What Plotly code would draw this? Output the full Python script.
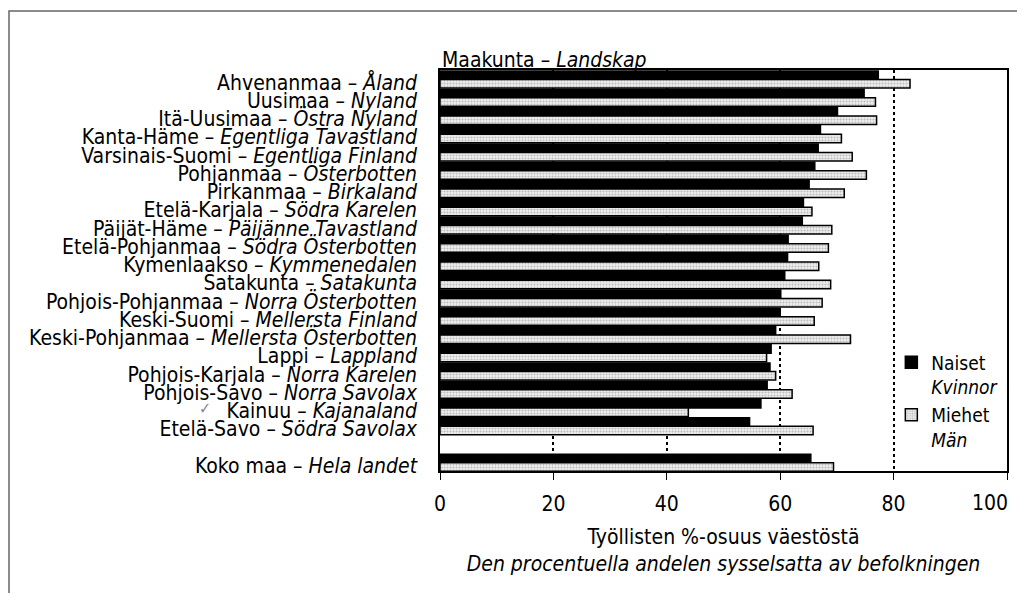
import plotly.graph_objects as go

regions_fi = ["Ahvenanmaa", "Uusimaa", "Itä-Uusimaa", "Kanta-Häme", "Varsinais-Suomi",
              "Pohjanmaa", "Pirkanmaa", "Etelä-Karjala", "Päijät-Häme", "Etelä-Pohjanmaa",
              "Kymenlaakso", "Satakunta", "Pohjois-Pohjanmaa", "Keski-Suomi", "Keski-Pohjanmaa",
              "Lappi", "Pohjois-Karjala", "Pohjois-Savo", "Kainuu", "Etelä-Savo", "Koko maa"]
regions_sv = ["Åland", "Nyland", "Östra Nyland", "Egentliga Tavastland", "Egentliga Finland",
              "Österbotten", "Birkaland", "Södra Karelen", "Päijänne Tavastland", "Södra Österbotten",
              "Kymmenedalen", "Satakunta", "Norra Österbotten", "Mellersta Finland", "Mellersta Österbotten",
              "Lappland", "Norra Karelen", "Norra Savolax", "Kajanaland", "Södra Savolax", "Hela landet"]
women = [77.3, 74.8, 70.1, 67.1, 66.7, 66.1, 65.1, 64.1, 63.9, 61.4, 61.3, 60.8, 60.1, 60.0,
         59.2, 58.4, 58.2, 57.7, 56.6, 54.6, 65.4]
men = [82.9, 76.8, 77.0, 70.8, 72.7, 75.2, 71.3, 65.6, 69.1, 68.5, 66.8, 68.9, 67.4, 66.0,
       72.4, 57.6, 59.2, 62.1, 43.8, 65.8, 69.4]
x_ticks = [0, 20, 40, 60, 80, 100]
x_ticktext = ["0", "20", "40", "60", "80", "100"]

# category positions: regions, one empty slot, then whole country
pos = list(range(len(regions_fi) - 1)) + [len(regions_fi)]
labels = [f"{fi} – <i>{sv}</i>" for fi, sv in zip(regions_fi, regions_sv)]

FONT = "Liberation Sans Narrow, DejaVu Sans Condensed, Arial Narrow, sans-serif"

fig = go.Figure()
fig.add_trace(go.Bar(
    y=pos, x=women, orientation="h", name="Naiset<br><i>Kvinnor</i>",
    marker=dict(color="black", line=dict(color="black", width=1.5)),
))
fig.add_trace(go.Bar(
    y=pos, x=men, orientation="h", name="Miehet<br><i>Män</i>",
    marker=dict(color="#efefef", line=dict(color="black", width=1.5),
                pattern=dict(shape=".", fgcolor="#8a8a8a", bgcolor="#efefef",
                             size=3, solidity=0.4)),
))

# the page body adds an 8 px offset; figure coordinates below are screen minus 8
W, H = 1017, 585
L, T = 432, 62
PW, PH = 567, 401
R, B = W - L - PW, H - T - PH

# the last tick label sits left of its tick (drawn separately so it stays inside)
axis_ticktext = x_ticktext[:-1] + [""]

fig.update_layout(
    width=W, height=H,
    margin=dict(l=L, r=R, t=T, b=B),
    paper_bgcolor="white", plot_bgcolor="white",
    barmode="group", bargap=0.07, bargroupgap=0,
    font=dict(family=FONT, size=20, color="black"),
    showlegend=True,
    legend=dict(x=0.796, y=0.318, xanchor="left", yanchor="top",
                bgcolor="rgba(0,0,0,0)", font=dict(size=19), itemwidth=30,
                valign="top", tracegroupgap=0, traceorder="normal"),
    xaxis=dict(range=[0, 100], tickvals=x_ticks, ticktext=axis_ticktext,
               ticks="outside", ticklen=7,
               tickcolor="black", tickwidth=1.2, showline=True, linecolor="black",
               linewidth=1.5, mirror=True, showgrid=True, gridcolor="black",
               griddash="dot", gridwidth=1.5, zeroline=False, tickfont=dict(size=21),
               ticklabelstandoff=6,
               title=dict(text="Työllisten %-osuus väestöstä<br><i>Den procentuella andelen sysselsatta av befolkningen</i>",
                          font=dict(size=21), standoff=14)),
    yaxis=dict(range=[len(regions_fi) + 0.45, -0.52], tickvals=[p + 0.15 for p in pos],
               ticktext=labels, showline=True, linecolor="black", linewidth=1.5,
               mirror=True, showgrid=False, zeroline=False, ticks="",
               ticklabelstandoff=17, tickfont=dict(size=21)),
)

fig.add_annotation(text=x_ticktext[-1], xref="x", yref="paper", x=x_ticks[-1], y=0,
                   xanchor="right", yanchor="middle", xshift=3, yshift=-32,
                   showarrow=False, font=dict(size=21))
# header above the label column
fig.add_annotation(text="Maakunta – <i>Landskap</i>", xref="paper", yref="paper",
                   x=0, y=1, xanchor="left", yanchor="bottom", yshift=-4,
                   showarrow=False, font=dict(size=21))
# pencil tick mark beside Kainuu
fig.add_annotation(text="✓", xref="paper", yref="y", x=(197 - L) / PW, y=18,
                   xanchor="center", showarrow=False,
                   font=dict(size=16, color="#888888"))
# outer frame of the figure
fig.add_shape(type="rect", xref="paper", yref="paper",
              x0=(1 - L) / PW, x1=(1100 - L) / PW, y0=-0.5, y1=(T + PH - 3) / PH,
              line=dict(color="#666666", width=1.5), layer="below")

fig.write_html("out.html")
